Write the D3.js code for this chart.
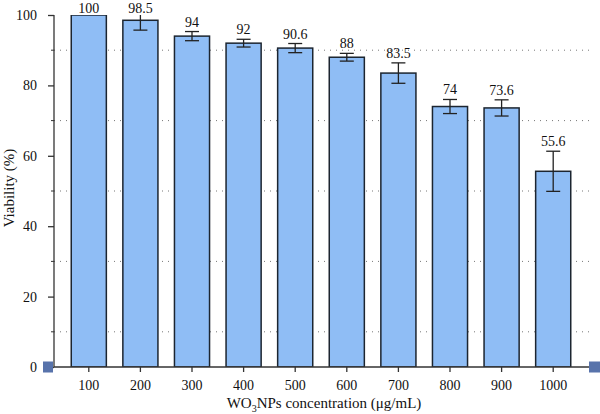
<!DOCTYPE html>
<html>
<head>
<meta charset="utf-8">
<script src="https://cdn.jsdelivr.net/npm/d3@7"></script>
<style>
  body { margin: 0; background: #fff; }
  text { font-family: "Liberation Serif", "DejaVu Serif", serif; fill: #111; }
</style>
</head>
<body>
<div id="chart-area"></div>
<script>
// Data
var categories = ["100", "200", "300", "400", "500", "600", "700", "800", "900", "1000"];
var viability = [100, 98.5, 94, 92, 90.6, 88, 83.5, 74, 73.6, 55.6];
var errors = [0, 2.8, 1.3, 1.1, 1.3, 1.1, 2.9, 2.0, 2.3, 5.7];
var yTicks = [0, 20, 40, 60, 80, 100];
var gridValues = [10, 30, 50, 70, 90];

var data = categories.map((c, i) => ({ name: c, value: viability[i], err: errors[i] }));

var width = 600;
var height = 414;

var svg = d3.select("#chart-area")
    .append("svg")
    .attr("width", width)
    .attr("height", height);

// Scales
var x = d3.scaleBand()
    .domain(categories)
    .range([63, 579])
    .paddingInner(0.32)
    .paddingOuter(0.16);

var y = d3.scaleLinear()
    .domain([0, 100])
    .range([367, 15]);

var axisLeftX = 54;
var axisRightX = 589;

// Clip for everything inside the plot (error bars over 100 are cut)
svg.append("clipPath").attr("id", "plot-clip")
    .append("rect")
    .attr("x", axisLeftX).attr("y", y(100))
    .attr("width", axisRightX - axisLeftX + 5)
    .attr("height", y(0) - y(100));

// Dotted grid lines
svg.append("g")
    .selectAll("line")
    .data(gridValues)
    .enter()
    .append("line")
    .attr("x1", axisLeftX)
    .attr("x2", axisRightX)
    .attr("y1", d => y(d))
    .attr("y2", d => y(d))
    .attr("stroke", "#777")
    .attr("stroke-width", 1)
    .attr("stroke-dasharray", "1,5");

// Bars
var plot = svg.append("g").attr("clip-path", "url(#plot-clip)");

plot.selectAll("rect.bar")
    .data(data)
    .enter()
    .append("rect")
    .attr("class", "bar")
    .attr("x", d => x(d.name))
    .attr("y", d => y(d.value))
    .attr("width", x.bandwidth())
    .attr("height", d => y(0) - y(d.value))
    .attr("fill", "#8fbdf5")
    .attr("stroke", "#1c2530")
    .attr("stroke-width", 1.5);

// Error bars
var errData = data.filter(d => d.err > 0);
var capW = 7;
var eb = plot.selectAll("g.err")
    .data(errData)
    .enter()
    .append("g")
    .attr("class", "err")
    .attr("stroke", "#222")
    .attr("stroke-width", 1.3);

eb.append("line")
    .attr("x1", d => x(d.name) + x.bandwidth() / 2)
    .attr("x2", d => x(d.name) + x.bandwidth() / 2)
    .attr("y1", d => y(d.value + d.err))
    .attr("y2", d => y(d.value - d.err));
eb.append("line")
    .attr("x1", d => x(d.name) + x.bandwidth() / 2 - capW)
    .attr("x2", d => x(d.name) + x.bandwidth() / 2 + capW)
    .attr("y1", d => y(d.value + d.err))
    .attr("y2", d => y(d.value + d.err));
eb.append("line")
    .attr("x1", d => x(d.name) + x.bandwidth() / 2 - capW)
    .attr("x2", d => x(d.name) + x.bandwidth() / 2 + capW)
    .attr("y1", d => y(d.value - d.err))
    .attr("y2", d => y(d.value - d.err));

// Value labels (kept inside the top edge)
svg.append("g")
    .selectAll("text")
    .data(data)
    .enter()
    .append("text")
    .attr("x", d => x(d.name) + x.bandwidth() / 2)
    .attr("y", d => Math.max(y(Math.min(d.value + d.err, 100)) - 5, 13))
    .attr("text-anchor", "middle")
    .attr("font-size", "14px")
    .text(d => d.value);

// Y axis
var leftAxis = d3.axisLeft(y)
    .tickValues(yTicks)
    .tickSize(6)
    .tickPadding(11);
var gy = svg.append("g")
    .attr("transform", "translate(" + axisLeftX + ",0)")
    .call(leftAxis);
gy.select(".domain").attr("stroke", "#333").attr("stroke-width", 1.3).attr("d", "M0," + y(100) + "V" + y(0));
gy.selectAll(".tick line").attr("stroke", "#333").attr("stroke-width", 1.3);
gy.selectAll("text").attr("font-size", "14px").attr("font-family", "Liberation Serif, serif").attr("fill", "#111");

// Minor ticks
svg.append("g")
    .selectAll("line")
    .data(gridValues)
    .enter()
    .append("line")
    .attr("x1", axisLeftX - 3)
    .attr("x2", axisLeftX)
    .attr("y1", d => y(d))
    .attr("y2", d => y(d))
    .attr("stroke", "#333")
    .attr("stroke-width", 1);

// X axis
var bottomAxis = d3.axisBottom(x).tickSize(5).tickPadding(8);
var gx = svg.append("g")
    .attr("transform", "translate(0," + y(0) + ")")
    .call(bottomAxis);
gx.select(".domain").attr("stroke", "#333").attr("stroke-width", 1.3).attr("d", "M" + axisLeftX + ",0H" + axisRightX);
gx.selectAll(".tick line").attr("stroke", "#333").attr("stroke-width", 1.3);
gx.selectAll("text").attr("font-size", "14px").attr("font-family", "Liberation Serif, serif").attr("fill", "#111");

// Blue end markers
svg.append("rect")
    .attr("x", 43).attr("y", y(0) - 5.5)
    .attr("width", 10).attr("height", 11)
    .attr("fill", "#5873ab");
svg.append("rect")
    .attr("x", axisRightX).attr("y", y(0) - 5.5)
    .attr("width", 11).attr("height", 11)
    .attr("fill", "#5873ab");

// Axis labels
var xl = svg.append("text")
    .attr("x", 324)
    .attr("y", 408)
    .attr("text-anchor", "middle")
    .attr("font-size", "15px");
xl.append("tspan").text("WO");
xl.append("tspan").attr("font-size", "10px").attr("dy", 4).text("3");
xl.append("tspan").attr("dy", -4).text("NPs concentration (μg/mL)");

svg.append("text")
    .attr("transform", "rotate(-90)")
    .attr("x", -188)
    .attr("y", 14)
    .attr("text-anchor", "middle")
    .attr("font-size", "15px")
    .text("Viability (%)");
</script>
</body>
</html>
